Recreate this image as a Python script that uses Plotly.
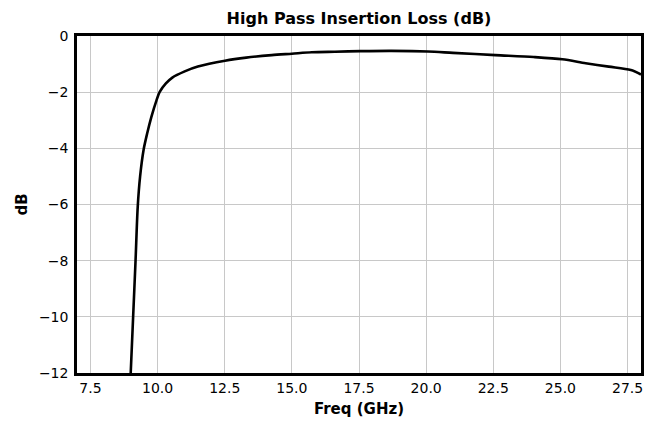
import plotly.graph_objects as go

# Insertion loss
freq_ghz = [9.0, 9.09, 9.18, 9.26, 9.35, 9.48, 9.61, 9.77, 9.96, 10.08, 10.31,
            10.55, 11.01, 11.5, 12.51, 13.3, 14.25, 15.0, 15.74, 16.6, 17.56,
            18.7, 20.07, 21.0, 22.58, 24.0, 25.07, 25.94, 26.8, 27.62, 28.0]
loss_db = [-12, -10, -8, -6.1, -5, -4.05, -3.48, -2.88, -2.29, -1.99, -1.69,
           -1.48, -1.26, -1.09, -0.88, -0.77, -0.68, -0.63, -0.58, -0.56, -0.54,
           -0.53, -0.55, -0.6, -0.68, -0.75, -0.83, -0.97, -1.09, -1.21, -1.37]

x_ticks = [7.5, 10.0, 12.5, 15.0, 17.5, 20.0, 22.5, 25.0, 27.5]
y_ticks = [0, -2, -4, -6, -8, -10, -12]

FONT = "DejaVu Sans"

fig = go.Figure()
fig.add_trace(go.Scatter(x=freq_ghz, y=loss_db, mode="lines",
                         line=dict(color="black", width=2.6, shape="spline", smoothing=0.8),
                         showlegend=False))

# page body adds ~8px offset, margins compensate
fig.update_layout(
    width=665, height=422,
    margin=dict(l=69, r=32, t=28, b=57),
    paper_bgcolor="white", plot_bgcolor="white",
    font=dict(family=FONT, size=14, color="black"),
    title=dict(text="<b>High Pass Insertion Loss (dB)</b>", x=0.5, xanchor="center",
               xref="paper", y=0.976, yanchor="middle", font=dict(size=16)),
)
fig.update_xaxes(
    range=[7, 28], tickvals=x_ticks, ticktext=[f"{v:.1f}" for v in x_ticks],
    showgrid=True, gridcolor="#c8c8c8", gridwidth=1,
    showline=True, linecolor="black", linewidth=2.5, mirror=True,
    ticks="", zeroline=False, automargin=False,
    title=dict(text="<b>Freq (GHz)</b>", font=dict(size=15), standoff=9),
)
fig.update_yaxes(
    range=[-12, 0], tickvals=y_ticks,
    showgrid=True, gridcolor="#c8c8c8", gridwidth=1,
    showline=True, linecolor="black", linewidth=2.5, mirror=True,
    ticks="", zeroline=False, automargin=False, ticklabelstandoff=3,
    title=dict(text="<b>dB</b>", font=dict(size=15), standoff=8),
)

fig.write_html("out.html")
